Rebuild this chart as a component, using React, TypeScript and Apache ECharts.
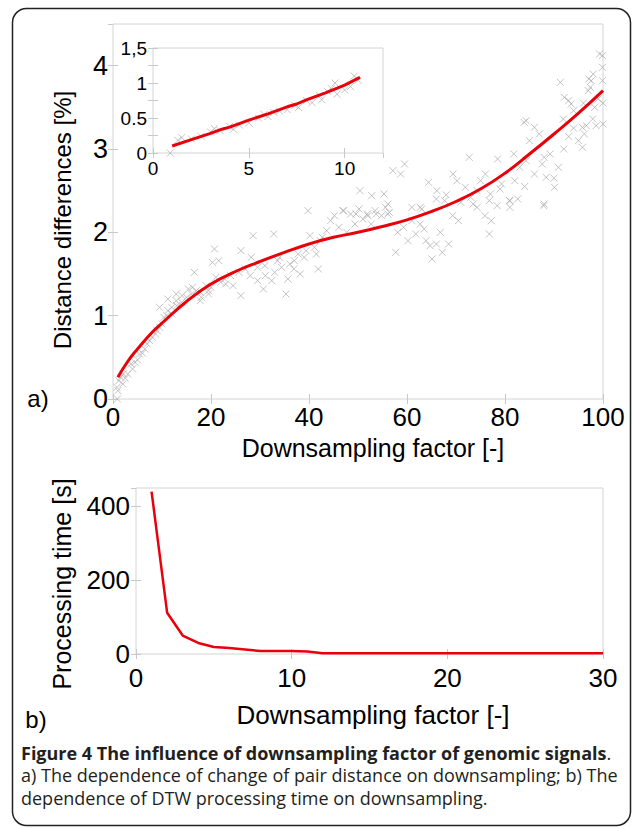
import React, { useEffect, useRef } from "react";
import * as echarts from "echarts";

// ---------- data ----------
const mainLineX = [1, 3, 5, 8, 10, 15, 20, 25, 30, 35, 40, 45, 50, 55, 60, 65, 70, 75, 80, 85, 90, 95, 100];
const mainLineY = [0.26, 0.45, 0.6, 0.8, 0.91, 1.17, 1.38, 1.53, 1.65, 1.76, 1.86, 1.94, 2.0, 2.07, 2.15, 2.25, 2.37, 2.52, 2.71, 2.94, 3.18, 3.43, 3.7];

const mainScatter: [number, number][] = [
  [0.9, 0.0], [0.8, 0.14], [1.2, 0.22], [1.6, 0.26], [2.1, 0.3], [1, 0.1], [2, 0.18], [2.5, 0.25], [3, 0.3], [3.7, 0.42],
  [4, 0.36], [4.5, 0.44], [5, 0.47], [5.4, 0.54], [6, 0.55], [6.5, 0.6], [7, 0.66], [7.5, 0.7], [8, 0.74], [8.7, 0.78],
  [9, 0.82], [9.5, 0.86], [10, 0.9], [10.4, 0.98], [11, 1.0], [11.2, 1.06], [12, 1.02], [12, 1.1], [12.9, 1.18], [13, 1.12],
  [14, 1.16], [14.1, 1.24], [15, 1.22], [15.4, 1.32], [16, 1.26], [16.2, 1.34], [17, 1.3], [17.8, 1.28], [18, 1.22], [19, 1.36],
  [19.5, 1.3], [20, 1.34], [9.5, 1.1], [11.2, 1.2], [12.9, 1.26], [16.6, 1.52], [20.3, 1.64], [20.7, 1.8], [21.6, 1.66],
  [17.8, 1.18], [19.5, 1.26], [21, 1.46], [22, 1.4], [22.8, 1.44], [23, 1.38], [24, 1.48], [24.5, 1.36], [25.7, 1.52], [26.1, 1.24],
  [26.1, 1.78], [27, 1.56], [28, 1.48], [28.2, 1.7], [28.6, 1.96], [29.5, 1.58], [29.5, 1.42], [30.7, 1.32], [31, 1.6], [31.1, 1.48],
  [32.4, 1.42], [32.8, 1.98], [33, 1.52], [33.6, 1.66], [34, 1.7], [34.4, 1.58], [35.3, 1.26], [35.7, 1.44], [36.1, 1.62], [36.9, 1.56],
  [37, 1.66], [37.8, 1.74], [38.2, 1.5], [39, 1.7], [39.4, 1.78], [40.2, 1.96], [41.1, 1.82], [41.5, 1.74], [41.9, 1.56], [42.3, 1.9],
  [39.8, 2.26], [42.7, 1.94], [43.6, 2.02], [44.4, 2.14], [45.2, 2.2], [46.1, 2.06], [46.9, 2.26], [47.7, 2.0], [48.5, 2.22], [49.4, 2.1],
  [50.2, 2.28], [51, 2.16], [51.9, 2.22], [52.7, 2.1], [53.5, 2.26], [54.8, 2.2], [55.6, 2.3], [56.4, 2.24], [57.7, 1.76], [58.1, 2.0],
  [47.1, 2.26], [49.6, 2.22], [52, 2.2], [53.7, 2.22], [56.1, 2.22], [50.4, 2.5], [52.8, 2.44], [55.3, 2.46], [56.1, 2.34], [59.5, 2.82],
  [57.1, 2.74], [58.7, 2.7], [59.3, 2.06], [60.2, 1.9], [61, 2.14], [61.8, 1.98], [62.7, 2.1], [63.5, 2.04], [63.9, 1.9], [64.7, 1.84],
  [65.1, 1.68], [66, 1.86], [66.8, 2.0], [67.2, 1.76], [68.5, 1.86], [69.3, 2.2], [70.5, 2.14], [61, 2.3], [63, 2.28], [62.7, 2.3],
  [64.4, 2.6], [66.1, 2.5], [67.7, 2.38], [66, 2.4], [68, 2.45], [69.4, 2.7], [70.2, 2.62], [71.9, 2.54], [74.3, 2.5], [76, 2.7],
  [79.3, 2.58], [81, 2.38], [72.7, 2.9], [73.5, 2.34], [76.8, 2.38], [81, 2.3], [82.6, 2.4], [74.3, 2.3], [75.9, 2.2], [76.8, 1.98],
  [77.2, 2.14], [78.4, 2.32], [80.9, 2.38], [87.9, 2.32], [71, 2.36], [73, 2.42], [75, 2.62], [77, 2.46], [79, 2.52], [82, 2.62],
  [84, 2.55], [86, 2.7], [78.5, 2.88], [81.8, 2.94], [83, 2.78], [84.3, 2.86], [87.6, 2.82], [89.2, 2.94], [88.4, 2.66], [90.9, 2.78],
  [90.1, 2.54], [88, 2.34], [88, 2.9], [84.3, 3.34], [85, 3.1], [86, 3.26], [87, 3.18], [90, 2.65], [92, 3.0], [93, 3.15],
  [94, 3.25], [95.8, 3.26], [96.2, 3.18], [95, 3.1], [95.8, 3.02], [98.3, 3.5], [97.9, 3.36], [92.1, 3.62], [93, 3.58], [93.5, 3.54],
  [94, 3.46], [91.3, 3.8], [97.1, 3.84], [97.4, 3.74], [99.9, 4.12], [99.9, 3.98], [99.9, 3.82], [96, 3.55], [97, 3.7], [98, 3.9],
  [99, 3.6], [100, 3.55], [100, 3.3], [99.3, 4.14], [97.6, 3.82], [91.9, 3.36], [96.6, 3.28], [98.6, 3.28], [83.9, 3.32],
];

const insetLineX = [1, 2, 3, 3.6, 4, 5, 6, 7, 7.5, 8, 9, 10, 10.8];
const insetLineY = [0.1, 0.19, 0.28, 0.34, 0.37, 0.47, 0.56, 0.66, 0.7, 0.76, 0.86, 0.97, 1.08];
const insetScatter: [number, number][] = [
  [0.9, 0.0], [1.3, 0.18], [1.5, 0.22], [2, 0.2], [2.5, 0.24], [3, 0.3], [3.2, 0.35], [3.5, 0.32], [4, 0.38], [4.2, 0.34],
  [4.5, 0.4], [5, 0.43], [5.5, 0.5], [5.8, 0.55], [6, 0.52], [6.3, 0.58], [6.6, 0.6], [7, 0.62], [7.4, 0.68], [7.6, 0.65],
  [8, 0.75], [8.3, 0.72], [8.7, 0.82], [8.8, 0.76], [9.1, 0.88], [9.3, 0.92], [9.5, 1.0], [9.6, 0.84], [10, 0.9], [10.3, 0.95],
  [10.5, 1.1], [10.7, 1.04],
];

const procX = [1, 2, 3, 4, 5, 6, 7, 8, 9, 10, 11, 12, 13, 14, 15, 16, 17, 18, 19, 20, 21, 22, 23, 24, 25, 26, 27, 28, 29, 30];
const procY = [440, 112, 50, 30, 19, 16, 12, 8, 8, 8, 7, 2, 2, 2, 2, 2, 2, 2, 2, 2, 2, 2, 2, 2, 2, 2, 2, 2, 2, 2];

const insetYTickValues = [0, 0.5, 1, 1.5];
const insetYTickLabels = ["0", "0.5", "1", "1,5"];

const texts = {
  mainY: "Distance differences [%]",
  mainX: "Downsampling factor [-]",
  procY: "Processing time [s]",
  procX: "Downsampling factor [-]",
  a: "a)",
  b: "b)",
  capBold: "Figure 4 The influence of downsampling factor of genomic signals",
  cap2: "a) The dependence of change of pair distance on downsampling; b) The",
  cap3: "dependence of DTW processing time on downsampling.",
};

const FONT = "Liberation Sans";
const CAPFONT = "Open Sans";
const TICK = "#c8c8c8";
const RED = "#e8000b";

function axisCommon(extra: any) {
  return {
    type: "value",
    axisLine: { show: false },
    splitLine: { show: false },
    axisTick: { show: true, inside: true, length: 5, lineStyle: { color: TICK, width: 1 } },
    ...extra,
  };
}

export default function App() {
  const ref = useRef<HTMLDivElement>(null);
  useEffect(() => {
    document.body.style.margin = "0";
    const chart = echarts.init(ref.current!, undefined, { renderer: "svg" });
    const lbl = (size: number, margin: number, extra: any = {}) => ({
      show: true, fontSize: size, fontFamily: FONT, color: "#000", margin, showMaxLabel: false, ...extra,
    });
    const noLbl = { show: false };
    chart.setOption({
      animation: false,
      backgroundColor: "#fff",
      grid: [
        { left: 113, top: 24, width: 490, height: 375, show: true, borderColor: "#d4d4d4", borderWidth: 1, backgroundColor: "transparent" },
        { left: 153, top: 48, width: 230, height: 105, show: true, borderColor: "#d4d4d4", borderWidth: 1, backgroundColor: "#fff", z: 3 },
        { left: 136, top: 488, width: 467, height: 166, show: true, borderColor: "#d4d4d4", borderWidth: 1, backgroundColor: "transparent" },
      ],
      xAxis: [
        axisCommon({ gridIndex: 0, min: 0, max: 100, interval: 20, axisLabel: lbl(26, 6, { showMaxLabel: true, lineHeight: 24 }) }),
        axisCommon({ gridIndex: 0, position: "top", min: 0, max: 100, interval: 20, axisLabel: noLbl }),
        axisCommon({ gridIndex: 1, min: 0, max: 12, interval: 5, axisLabel: lbl(19, 6), z: 4 }),
        axisCommon({ gridIndex: 1, position: "top", min: 0, max: 12, interval: 5, axisLabel: noLbl, z: 4 }),
        axisCommon({ gridIndex: 2, min: 0, max: 30, interval: 10, axisLabel: lbl(26, 11, { showMaxLabel: true }) }),
        axisCommon({ gridIndex: 2, position: "top", min: 0, max: 30, interval: 10, axisLabel: noLbl }),
      ],
      yAxis: [
        axisCommon({ gridIndex: 0, min: 0, max: 4.5, interval: 1, axisLabel: lbl(27, 5) }),
        axisCommon({ gridIndex: 0, position: "right", min: 0, max: 4.5, interval: 1, axisLabel: noLbl }),
        axisCommon({
          gridIndex: 1, min: 0, max: 1.5, interval: 0.25, z: 4,
          axisLabel: lbl(19, 6, {
            showMaxLabel: true,
            formatter: (v: number) => {
              const i = insetYTickValues.findIndex((t) => Math.abs(t - v) < 1e-6);
              return i >= 0 ? insetYTickLabels[i] : "";
            },
          }),
        }),
        axisCommon({ gridIndex: 1, position: "right", min: 0, max: 1.5, interval: 0.25, axisLabel: noLbl, z: 4 }),
        axisCommon({ gridIndex: 2, min: 0, max: 450, interval: 200, axisLabel: lbl(26, 6) }),
        axisCommon({ gridIndex: 2, position: "right", min: 0, max: 450, interval: 200, axisLabel: noLbl }),
      ],
      series: [
        {
          type: "scatter", xAxisIndex: 0, yAxisIndex: 0, data: mainScatter,
          symbol: "path://M0,0L10,10M10,0L0,10", symbolSize: 7,
          itemStyle: { color: "none", borderColor: "#ababab", borderWidth: 0.9 },
          silent: true, z: 2,
        },
        {
          type: "line", xAxisIndex: 0, yAxisIndex: 0, data: mainLineX.map((x, i) => [x, mainLineY[i]]),
          smooth: 0.5, showSymbol: false, lineStyle: { color: RED, width: 3 }, z: 3,
        },
        {
          type: "scatter", xAxisIndex: 2, yAxisIndex: 2, data: insetScatter,
          symbol: "path://M0,0L10,10M10,0L0,10", symbolSize: 7,
          itemStyle: { color: "none", borderColor: "#ababab", borderWidth: 0.9 },
          silent: true, z: 5,
        },
        {
          type: "line", xAxisIndex: 2, yAxisIndex: 2, data: insetLineX.map((x, i) => [x, insetLineY[i]]),
          showSymbol: false, lineStyle: { color: RED, width: 3 }, z: 6,
        },
        {
          type: "line", xAxisIndex: 4, yAxisIndex: 4, data: procX.map((x, i) => [x, procY[i]]),
          showSymbol: false, lineStyle: { color: RED, width: 2.5 }, z: 3,
        },
      ],
      graphic: [
        { type: "rect", shape: { x: 12.5, y: 8.5, width: 618, height: 817, r: 14 }, style: { fill: "none", stroke: "#222", lineWidth: 1.5 }, z: 100 },
        { type: "text", x: 62, y: 220, rotation: Math.PI / 2, style: { text: texts.mainY, fontSize: 24, fontFamily: FONT, fill: "#000", textAlign: "center", textVerticalAlign: "middle" } },
        { type: "text", x: 373, y: 448, style: { text: texts.mainX, fontSize: 25, fontFamily: FONT, fill: "#000", textAlign: "center", textVerticalAlign: "middle" } },
        { type: "text", x: 38, y: 398, style: { text: texts.a, fontSize: 24, fontFamily: FONT, fill: "#000", textAlign: "center", textVerticalAlign: "middle" } },
        { type: "text", x: 62, y: 584, rotation: Math.PI / 2, style: { text: texts.procY, fontSize: 25, fontFamily: FONT, fill: "#000", textAlign: "center", textVerticalAlign: "middle" } },
        { type: "text", x: 373, y: 715, style: { text: texts.procX, fontSize: 26, fontFamily: FONT, fill: "#000", textAlign: "center", textVerticalAlign: "middle" } },
        { type: "text", x: 36, y: 719, style: { text: texts.b, fontSize: 24, fontFamily: FONT, fill: "#000", textAlign: "center", textVerticalAlign: "middle" } },
        {
          type: "text", x: 21, y: 753,
          style: {
            text: "{b|" + texts.capBold + "}{r|.}", textVerticalAlign: "middle",
            rich: {
              b: { fontSize: 18, fontFamily: CAPFONT, fontWeight: "bold", fill: "#231f20" },
              r: { fontSize: 18, fontFamily: CAPFONT, fill: "#231f20" },
            },
          },
        },
        { type: "text", x: 21, y: 775, style: { text: texts.cap2, fontSize: 18, fontFamily: CAPFONT, fill: "#231f20", textVerticalAlign: "middle" } },
        { type: "text", x: 21, y: 798, style: { text: texts.cap3, fontSize: 18, fontFamily: CAPFONT, fill: "#231f20", textVerticalAlign: "middle" } },
      ],
    });
    return () => chart.dispose();
  }, []);
  return <div ref={ref} style={{ width: 633, height: 829 }} />;
}
